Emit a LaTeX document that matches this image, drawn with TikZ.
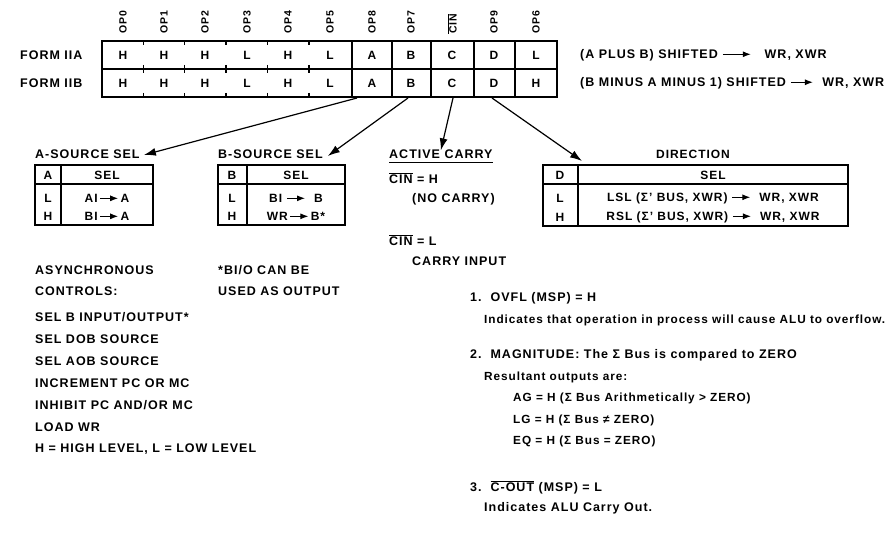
\documentclass[tikz,border=0pt]{standalone}
\usepackage{fontspec}
\setmainfont{Liberation Sans}[LetterSpace=8]
\usetikzlibrary{arrows.meta}

\newcommand{\shft}[1][18pt]{\tikz[baseline=-0.6ex]\draw[line width=1pt,-{Latex[length=8pt,width=6pt]}] (0pt,0pt) -- (#1,0pt);}
\newcommand{\ovl}[1]{$\overline{\mbox{#1}}$}

\begin{document}
\begin{tikzpicture}[x=1pt,y=-1pt,
    txt/.style={font=\bfseries\fontsize{12.5}{14}\selectfont, inner sep=0pt, anchor=west},
    small/.style={txt, font=\bfseries\fontsize{11.8}{13}\selectfont},
    big/.style={txt, font=\bfseries\fontsize{12.5}{15}\selectfont},
    cell/.style={font=\bfseries\fontsize{12}{14}\selectfont, inner sep=0pt},
    oplbl/.style={font=\bfseries\fontsize{10.5}{12}\selectfont, rotate=90, anchor=west, inner sep=0pt},
    pointer/.style={-{Latex[length=12pt,width=8pt]}, line width=1.2pt}]
    \fill[white] (0,0) rectangle (895,543);
    \useasboundingbox (0,0) rectangle (895,543);

    % instruction word
    \draw[line width=1.4pt] (102,41) rectangle (557,97);
    \draw[line width=1.4pt] (102,69) -- (557,69);
    \foreach \x in {352,392,431,474,515} {
        \draw[line width=1.4pt] (\x,41) -- (\x,97);
    }
    \foreach \x in {143.5,184.5,226,267.5,309} {
        \draw[line width=1.1pt] (\x,41) -- (\x,45);
        \draw[line width=1.1pt] (\x,65) -- (\x,73);
        \draw[line width=1.1pt] (\x,93) -- (\x,97);
    }
    \foreach \x/\t/\a/\b [count=\i] in {123/OP0/H/H,164/OP1/H/H,205/OP2/H/H,247/OP3/L/L,288/OP4/H/H,330/OP5/L/L,
        372/OP8/A/A,411/OP7/B/B,452/{\ovl{CIN}}/C/C,494/OP9/D/D,536/OP6/L/H} {
        \node[oplbl] (op\i) at (\x,34) {\t};
        \node[cell] (ia\i) at (\x,55) {\a};
        \node[cell] (ib\i) at (\x,83) {\b};
    }
    \node[txt] (f2a) at (20,55) {FORM IIA};
    \node[txt] (f2b) at (20,83) {FORM IIB};
    \node[txt] (r2a) at (580,55) {(A PLUS B) SHIFTED \shft[28pt]\ \ \ WR, XWR};
    \node[txt] (r2b) at (580,83) {(B MINUS A MINUS 1) SHIFTED \shft[22pt]\ \ WR, XWR};

    \coordinate (fa) at (357,98);
    \coordinate (fb) at (408,98);
    \coordinate (fc) at (453,98);
    \coordinate (fd) at (492,98);

    % A source
    \node[txt] (asel) at (35,154) {A-SOURCE SEL};
    \draw[line width=1.2pt] (35,165) rectangle (153,225);
    \draw[line width=1.2pt] (35,184) -- (153,184);
    \draw[line width=1.2pt] (61,165) -- (61,225);
    \node[cell] (ah) at (48,175) {A};
    \node[cell] (as) at (107,175) {SEL};
    \node[cell] (al) at (48,198) {L};
    \node[cell] (alv) at (107,198) {AI\,\shft\,A};
    \node[cell] (ahh) at (48,216) {H};
    \node[cell] (ahv) at (107,216) {BI\,\shft\,A};

    % B source
    \node[txt] (bsel) at (218,154) {B-SOURCE SEL};
    \draw[line width=1.2pt] (218,165) rectangle (345,225);
    \draw[line width=1.2pt] (218,184) -- (345,184);
    \draw[line width=1.2pt] (247,165) -- (247,225);
    \node[cell] (bh) at (232,175) {B};
    \node[cell] (bs) at (296,175) {SEL};
    \node[cell] (bl) at (232,198) {L};
    \node[cell] (blv) at (296,198) {BI\ \shft\ \ B};
    \node[cell] (bhh) at (232,216) {H};
    \node[cell] (bhv) at (296,216) {WR\,\shft\,B*};

    % carry
    \node[txt] (carry) at (389,154) {ACTIVE CARRY};
    \draw[line width=0.9pt] (carry.south west) ++(0,4) -- ([yshift=-4pt]carry.south east);
    \node[txt] (cinh) at (389,178) {\ovl{CIN} = H};
    \node[txt] (noc) at (412,199) {(NO CARRY)};
    \node[txt] (cinl) at (389,240) {\ovl{CIN} = L};
    \node[txt] (cin) at (412,261) {CARRY INPUT};

    % direction
    \node[cell] (dir) at (693,154) {DIRECTION};
    \draw[line width=1.2pt] (543,165) rectangle (848,226);
    \draw[line width=1.2pt] (543,184) -- (848,184);
    \draw[line width=1.2pt] (578,165) -- (578,226);
    \node[cell] (dh) at (560,175) {D};
    \node[cell] (ds) at (713,175) {SEL};
    \node[cell] (dl) at (560,198) {L};
    \node[cell] (dlv) at (713,198) {LSL (Σ' BUS, XWR) \shft\ \ WR, XWR};
    \node[cell] (dhh) at (560,217) {H};
    \node[cell] (dhv) at (713,217) {RSL (Σ' BUS, XWR) \shft\ \ WR, XWR};

    \draw[pointer] (fa) -- ([xshift=4pt,yshift=-1pt]asel.east);
    \draw[pointer] (fb) -- ([xshift=5pt,yshift=-2pt]bsel.east);
    \draw[pointer] (fc) -- ([yshift=-1pt]carry.north);
    \draw[pointer] (fd) -- (582,161);

    % asynchronous controls
    \node[txt] (as1) at (35,270) {ASYNCHRONOUS};
    \node[txt] (as2) at (35,291) {CONTROLS:};
    \foreach \t [count=\i] in {SEL B INPUT/OUTPUT*,SEL DOB SOURCE,SEL AOB SOURCE,INCREMENT PC OR MC,
        INHIBIT PC AND/OR MC,LOAD WR,H = HIGH LEVEL{,} L = LOW LEVEL} {
        \node[txt] (ac\i) at (35,295+22*\i) {\t};
    }
    \node[txt] (bio1) at (218,270) {*BI/O CAN BE};
    \node[txt] (bio2) at (218,291) {USED AS OUTPUT};

    % outputs
    \node[txt] (o1) at (470,298) {1.\ \ OVFL (MSP) = H};
    \node[small] (o1t) at (484,320) {Indicates that operation in process will cause ALU to overflow.};
    \node[txt] (o2) at (470,355) {2.\ \ MAGNITUDE: The Σ Bus is compared to ZERO};
    \node[small] (o2t) at (484,377) {Resultant outputs are:};
    \node[small] (ag) at (513,398) {AG = H (Σ Bus Arithmetically > ZERO)};
    \node[small] (lg) at (513,420) {LG = H (Σ Bus ≠ ZERO)};
    \node[small] (eq) at (513,441) {EQ = H (Σ Bus = ZERO)};
    \node[big] (o3) at (470,487) {3.\ \ \ovl{C-OUT} (MSP) = L};
    \node[big] (o3t) at (484,508) {Indicates ALU Carry Out.};
\end{tikzpicture}
\end{document}
